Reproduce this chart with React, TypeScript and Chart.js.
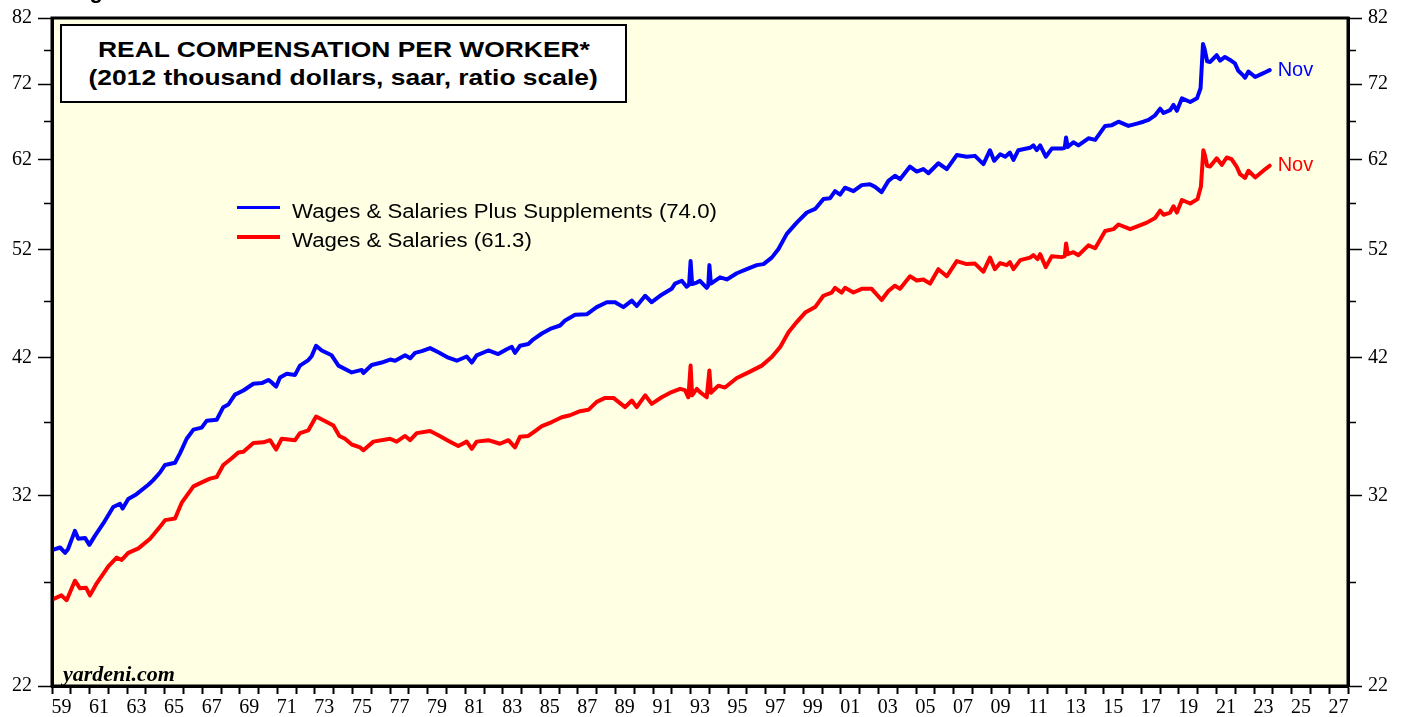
import React, { useEffect, useRef } from 'react';
import { Chart, registerables } from 'chart.js';

Chart.register(...registerables);

// ---------- data ----------
const blueDates = [
  1959.0, 1959.43, 1959.7, 1959.85, 1960.22, 1960.4, 1960.76, 1960.99, 1961.3, 1961.73,
  1962.26, 1962.62, 1962.76, 1963.06, 1963.5, 1964.13, 1964.39, 1964.75, 1965.02, 1965.55,
  1965.82, 1966.17, 1966.53, 1966.97, 1967.24, 1967.77, 1968.12, 1968.39, 1968.74, 1969.19,
  1969.72, 1970.17, 1970.52, 1970.7, 1970.93, 1971.14, 1971.5, 1971.94, 1972.2, 1972.65,
  1972.83, 1973.06, 1973.36, 1973.89, 1974.25, 1974.96, 1975.49, 1975.58, 1976.02, 1976.55,
  1977.0, 1977.27, 1977.8, 1978.07, 1978.33, 1978.69, 1979.13, 1979.57, 1980.1, 1980.55,
  1981.08, 1981.35, 1981.61, 1982.23, 1982.76, 1983.21, 1983.48, 1983.65, 1983.92, 1984.36,
  1984.63, 1985.08, 1985.52, 1986.05, 1986.32, 1986.85, 1987.47, 1988.0, 1988.54, 1988.98,
  1989.42, 1989.87, 1990.13, 1990.58, 1990.93, 1991.46, 1991.99, 1992.17, 1992.53, 1992.79,
  1992.92, 1993.0, 1993.08, 1993.33, 1993.5, 1993.86, 1993.94, 1994.0, 1994.08, 1994.57,
  1994.93, 1995.46, 1995.99, 1996.52, 1996.88, 1997.32, 1997.67, 1998.12, 1998.65, 1999.19,
  1999.63, 2000.07, 2000.43, 2000.69, 2000.96, 2001.22, 2001.67, 2002.11, 2002.55, 2002.82,
  2003.17, 2003.53, 2003.88, 2004.15, 2004.68, 2005.04, 2005.39, 2005.66, 2006.19, 2006.64,
  2007.17, 2007.7, 2008.14, 2008.59, 2008.94, 2009.16, 2009.48, 2009.75, 2010.0, 2010.19,
  2010.45, 2011.07, 2011.25, 2011.43, 2011.61, 2011.91, 2012.23, 2012.76, 2012.92, 2012.99,
  2013.08, 2013.38, 2013.65, 2014.18, 2014.54, 2015.07, 2015.43, 2015.78, 2016.31, 2016.76,
  2017.11, 2017.38, 2017.73, 2018.0, 2018.18, 2018.53, 2018.71, 2018.89, 2019.16, 2019.6,
  2019.96, 2020.15, 2020.28, 2020.36, 2020.5, 2020.66, 2021.01, 2021.19, 2021.45, 2021.72,
  2021.98, 2022.16, 2022.43, 2022.52, 2022.7, 2023.06, 2023.41, 2023.6, 2023.83,
];
const blueValues = [
  28.75, 28.9, 28.6, 28.8, 29.86, 29.4, 29.45, 29.05, 29.6, 30.3,
  31.3, 31.5, 31.2, 31.8, 32.1, 32.7, 33.0, 33.5, 34.0, 34.15,
  34.8, 35.8, 36.45, 36.6, 37.1, 37.17, 38.1, 38.3, 39.05, 39.37,
  39.9, 39.95, 40.2, 40.0, 39.67, 40.4, 40.7, 40.6, 41.35, 41.8,
  42.15, 43.0, 42.6, 42.2, 41.35, 40.8, 41.0, 40.75, 41.4, 41.6,
  41.85, 41.75, 42.2, 41.95, 42.4, 42.55, 42.8, 42.45, 42.0, 41.75,
  42.1, 41.6, 42.2, 42.6, 42.3, 42.7, 42.9, 42.4, 43.0, 43.15,
  43.55, 44.05, 44.45, 44.75, 45.2, 45.7, 45.75, 46.4, 46.85, 46.85,
  46.4, 47.0, 46.5, 47.45, 46.85, 47.55, 48.1, 48.6, 48.87, 48.3,
  48.5, 50.8, 48.55, 48.7, 48.87, 48.2, 48.4, 50.4, 48.6, 49.2,
  49.0, 49.6, 50.0, 50.4, 50.5, 51.15, 52.0, 53.6, 54.8, 55.9,
  56.3, 57.4, 57.5, 58.3, 57.9, 58.7, 58.3, 59.0, 59.1, 58.8,
  58.2, 59.5, 60.1, 59.7, 61.2, 60.6, 60.9, 60.4, 61.6, 60.9,
  62.6, 62.4, 62.5, 61.5, 63.2, 61.9, 62.7, 62.4, 62.9, 62.0,
  63.2, 63.5, 63.8, 63.2, 63.8, 62.4, 63.4, 63.4, 63.5, 64.8,
  63.6, 64.2, 63.8, 64.7, 64.5, 66.3, 66.4, 66.85, 66.3, 66.6,
  66.85, 67.1, 67.7, 68.6, 68.0, 68.4, 69.1, 68.3, 70.0, 69.5,
  70.0, 71.4, 77.9, 77.2, 75.3, 75.2, 76.2, 75.4, 75.95, 75.5,
  75.0, 73.9, 73.2, 72.9, 73.8, 73.0, 73.45, 73.7, 74.0,
];

const redDates = [
  1959.0, 1959.5, 1959.78, 1960.22, 1960.49, 1960.81, 1961.02, 1961.38, 1962.0, 1962.44,
  1962.71, 1963.06, 1963.6, 1964.22, 1964.75, 1965.02, 1965.55, 1965.9, 1966.53, 1967.06,
  1967.41, 1967.77, 1968.12, 1968.57, 1968.92, 1969.19, 1969.72, 1970.25, 1970.61, 1970.93,
  1971.23, 1971.94, 1972.2, 1972.65, 1973.06, 1973.63, 1973.98, 1974.3, 1974.6, 1974.96,
  1975.4, 1975.58, 1976.11, 1977.0, 1977.35, 1977.8, 1978.07, 1978.42, 1979.13, 1979.57,
  1980.19, 1980.63, 1981.08, 1981.35, 1981.61, 1982.23, 1982.85, 1983.3, 1983.65, 1983.92,
  1984.36, 1984.72, 1985.08, 1985.61, 1986.14, 1986.58, 1987.11, 1987.56, 1988.0, 1988.45,
  1988.89, 1989.51, 1989.87, 1990.13, 1990.58, 1990.93, 1991.46, 1991.99, 1992.44, 1992.7,
  1992.88, 1993.0, 1993.08, 1993.33, 1993.5, 1993.86, 1994.0, 1994.08, 1994.48, 1994.83,
  1995.46, 1996.08, 1996.79, 1997.32, 1997.77, 1998.21, 1998.65, 1999.1, 1999.63, 2000.07,
  2000.51, 2000.69, 2001.04, 2001.22, 2001.67, 2002.11, 2002.64, 2003.17, 2003.53, 2003.88,
  2004.15, 2004.68, 2005.04, 2005.39, 2005.75, 2006.19, 2006.64, 2007.17, 2007.7, 2008.14,
  2008.59, 2008.94, 2009.2, 2009.48, 2009.83, 2010.0, 2010.19, 2010.55, 2011.07, 2011.25,
  2011.47, 2011.61, 2011.91, 2012.23, 2012.76, 2012.92, 2012.99, 2013.08, 2013.38, 2013.65,
  2014.18, 2014.54, 2015.07, 2015.51, 2015.78, 2016.4, 2016.85, 2017.29, 2017.73, 2018.0,
  2018.18, 2018.53, 2018.71, 2018.89, 2019.16, 2019.6, 2019.99, 2020.17, 2020.3, 2020.38,
  2020.5, 2020.66, 2021.01, 2021.28, 2021.54, 2021.8, 2022.07, 2022.25, 2022.52, 2022.7,
  2023.06, 2023.41, 2023.6, 2023.83,
];
const redValues = [
  26.08, 26.3, 26.05, 27.07, 26.67, 26.7, 26.3, 26.93, 27.85, 28.33,
  28.2, 28.6, 28.85, 29.4, 30.1, 30.5, 30.6, 31.55, 32.6, 32.9,
  33.1, 33.2, 34.0, 34.45, 34.85, 34.9, 35.5, 35.55, 35.7, 35.05,
  35.8, 35.7, 36.2, 36.4, 37.4, 37.0, 36.75, 36.0, 35.8, 35.4,
  35.2, 35.0, 35.6, 35.8, 35.6, 36.0, 35.7, 36.2, 36.35, 36.05,
  35.6, 35.3, 35.6, 35.1, 35.6, 35.7, 35.45, 35.7, 35.2, 35.95,
  36.0, 36.35, 36.7, 37.0, 37.35, 37.5, 37.8, 37.9, 38.5, 38.8,
  38.8, 38.1, 38.6, 38.1, 39.0, 38.35, 38.85, 39.25, 39.5, 39.4,
  38.85, 41.35, 39.0, 39.5, 39.25, 38.85, 40.95, 39.2, 39.75, 39.6,
  40.35, 40.8, 41.35, 42.05, 42.9, 44.15, 45.05, 45.9, 46.4, 47.45,
  47.75, 48.2, 47.75, 48.2, 47.75, 48.1, 48.1, 47.05, 47.9, 48.4,
  48.1, 49.3, 48.9, 49.0, 48.6, 50.0, 49.3, 50.8, 50.5, 50.55,
  49.75, 51.15, 50.0, 50.6, 50.4, 50.7, 50.0, 50.9, 51.15, 51.4,
  51.0, 51.5, 50.2, 51.3, 51.2, 51.3, 52.6, 51.5, 51.7, 51.4,
  52.4, 52.1, 53.9, 54.1, 54.6, 54.1, 54.45, 54.8, 55.3, 56.1,
  55.65, 55.9, 56.6, 55.9, 57.3, 56.9, 57.4, 58.85, 63.2, 62.6,
  61.3, 61.2, 62.2, 61.4, 62.3, 62.1, 61.2, 60.3, 59.85, 60.7,
  59.9, 60.55, 60.9, 61.3,
];

const seriesNames = ['Wages & Salaries Plus Supplements (74.0)', 'Wages & Salaries (61.3)'];
const seriesColors = ['#0000FF', '#FF0000'];
const endLabel = 'Nov';

const yTickValues = [22, 27, 32, 37, 42, 47, 52, 57, 62, 67, 72, 77, 82];
const yLabelValues = [22, 32, 42, 52, 62, 72, 82];
const xFirstYear = 1959;
const xLastYear = 2028;
const xLabelYears = [
  1959, 1961, 1963, 1965, 1967, 1969, 1971, 1973, 1975, 1977, 1979, 1981, 1983, 1985,
  1987, 1989, 1991, 1993, 1995, 1997, 1999, 2001, 2003, 2005, 2007, 2009, 2011, 2013,
  2015, 2017, 2019, 2021, 2023, 2025, 2027,
];

const BG = '#FFFFE3';
const W = 1407;
const H = 717;

const tickFont = { family: '"Liberation Serif", "Times New Roman", serif', size: 20 };

function buildXTicks() {
  const t: { value: number }[] = [];
  for (let y = xFirstYear; y <= xLastYear; y++) t.push({ value: y });
  xLabelYears.forEach((y) => t.push({ value: y + 0.5 }));
  t.sort((a, b) => a.value - b.value);
  return t;
}

const framePlugin = {
  id: 'frame',
  beforeDraw(chart: any) {
    const { ctx, chartArea: a } = chart;
    ctx.save();
    ctx.fillStyle = BG;
    ctx.fillRect(a.left, a.top, a.right - a.left, a.bottom - a.top);
    ctx.restore();
  },
  afterDraw(chart: any) {
    const { ctx, chartArea: a, scales } = chart;
    ctx.save();
    ctx.strokeStyle = '#000';
    ctx.lineWidth = 3;
    ctx.strokeRect(a.left, a.top, a.right - a.left, a.bottom - a.top);
    ctx.lineWidth = 1.5;
    yTickValues
      .filter((v) => !yLabelValues.includes(v))
      .forEach((v) => {
        const py = Math.round(scales.y.getPixelForValue(v)) + 0.5;
        ctx.beginPath();
        ctx.moveTo(a.left - 8, py);
        ctx.lineTo(a.left, py);
        ctx.moveTo(a.right, py);
        ctx.lineTo(a.right + 8, py);
        ctx.stroke();
      });
    ctx.font = '20px "Liberation Sans", Arial, sans-serif';
    ctx.textBaseline = 'middle';
    ctx.textAlign = 'left';
    chart.data.datasets.forEach((ds: any, i: number) => {
      const last = ds.data[ds.data.length - 1];
      const px = scales.x.getPixelForValue(last.x);
      const py = scales.y.getPixelForValue(last.y);
      ctx.fillStyle = seriesColors[i];
      ctx.fillText(endLabel, px + 8, py);
    });
    ctx.restore();
  },
};

function yAxis(position: 'left' | 'right', width: number) {
  return {
    type: 'logarithmic' as const,
    position,
    min: 22,
    max: 82,
    afterBuildTicks: (s: any) => {
      s.ticks = yTickValues.map((v) => ({ value: v }));
    },
    afterFit: (s: any) => {
      s.width = width;
    },
    grid: {
      drawOnChartArea: false,
      tickLength: 14,
      tickWidth: 1.5,
      tickColor: (c: any) =>
        c.tick && yLabelValues.includes(c.tick.value) ? '#000' : 'rgba(0,0,0,0)',
    },
    border: { display: true, color: '#000', width: 3 },
    ticks: {
      autoSkip: false,
      padding: 6,
      color: '#000',
      font: tickFont,
      callback: (v: any) => (yLabelValues.includes(Number(v)) ? String(v) : ''),
    },
  };
}

export default function App() {
  const ref = useRef<HTMLCanvasElement | null>(null);

  useEffect(() => {
    if (!ref.current) return;
    const mk = (dates: number[], vals: number[]) => dates.map((d, i) => ({ x: d, y: vals[i] }));
    const chart = new Chart(ref.current, {
      type: 'line',
      data: {
        datasets: [
          {
            label: seriesNames[0],
            data: mk(blueDates, blueValues),
            borderColor: seriesColors[0],
            borderWidth: 4,
            pointRadius: 0,
            tension: 0,
            yAxisID: 'y',
          },
          {
            label: seriesNames[1],
            data: mk(redDates, redValues),
            borderColor: seriesColors[1],
            borderWidth: 4,
            pointRadius: 0,
            tension: 0,
            yAxisID: 'y',
          },
        ],
      },
      options: {
        animation: false,
        responsive: false,
        maintainAspectRatio: false,
        layout: { padding: { top: 17, left: 0, right: 0, bottom: 0 } },
        plugins: { legend: { display: false }, tooltip: { enabled: false } },
        elements: { line: { borderJoinStyle: 'round', borderCapStyle: 'round' } },
        scales: {
          x: {
            type: 'linear',
            position: 'bottom',
            min: xFirstYear,
            max: xLastYear,
            afterBuildTicks: (s: any) => {
              s.ticks = buildXTicks();
            },
            afterFit: (s: any) => {
              s.height = 31;
            },
            grid: {
              drawOnChartArea: false,
              tickLength: 8,
              tickWidth: 2,
              tickColor: (c: any) =>
                c.tick && Number.isInteger(c.tick.value) ? '#000' : 'rgba(0,0,0,0)',
            },
            border: { display: true, color: '#000', width: 3 },
            ticks: {
              autoSkip: false,
              maxRotation: 0,
              minRotation: 0,
              padding: 2,
              color: '#000',
              font: tickFont,
              callback: (v: any) => {
                const n = Number(v);
                if (Number.isInteger(n)) return '';
                const yr = Math.floor(n);
                return xLabelYears.includes(yr) ? String(yr % 100).padStart(2, '0') : '';
              },
            },
          },
          y: yAxis('left', 52),
          y2: yAxis('right', 59),
        } as any,
      },
      plugins: [framePlugin],
    });
    return () => chart.destroy();
  }, []);

  const sans = '"Liberation Sans", Arial, Helvetica, sans-serif';

  return (
    <div
      style={{
        position: 'absolute',
        left: 0,
        top: 0,
        width: W,
        height: H,
        overflow: 'hidden',
        background: '#fff',
      }}
    >
      <canvas ref={ref} width={W} height={H} style={{ display: 'block', width: W, height: H }} />
      <div
        style={{
          position: 'absolute',
          left: 70,
          top: -20,
          font: `bold 22px/22px ${sans}`,
          color: '#000',
        }}
      >
        Figure
      </div>
      <div
        style={{
          position: 'absolute',
          left: 60,
          top: 24,
          width: 567,
          height: 79,
          boxSizing: 'border-box',
          border: '2px solid #000',
          background: '#fff',
          paddingTop: 10,
          textAlign: 'center',
          font: `bold 22px/28px ${sans}`,
          color: '#000',
        }}
      >
        <div>
          <span style={{ display: 'inline-block', transform: 'scaleX(1.2)', whiteSpace: 'nowrap' }}>
            REAL COMPENSATION PER WORKER*
          </span>
        </div>
        <div>
          <span style={{ display: 'inline-block', transform: 'scaleX(1.2)', whiteSpace: 'nowrap' }}>
            (2012 thousand dollars, saar, ratio scale)
          </span>
        </div>
      </div>
      {seriesNames.map((name, i) => (
        <React.Fragment key={name}>
          <div
            style={{
              position: 'absolute',
              left: 237,
              top: [205.5, 235][i],
              width: 43,
              height: 3.5,
              background: seriesColors[i],
            }}
          />
          <div
            style={{
              position: 'absolute',
              left: 292,
              top: [199, 228][i],
              font: `20px/24px ${sans}`,
              color: '#000',
              whiteSpace: 'nowrap',
              transform: 'scaleX(1.11)',
              transformOrigin: 'left center',
            }}
          >
            {name}
          </div>
        </React.Fragment>
      ))}
      <div
        style={{
          position: 'absolute',
          left: 63,
          top: 663,
          font: `italic bold 22px/22px "Liberation Serif", "Times New Roman", serif`,
          color: '#000',
        }}
      >
        yardeni.com
      </div>
    </div>
  );
}
